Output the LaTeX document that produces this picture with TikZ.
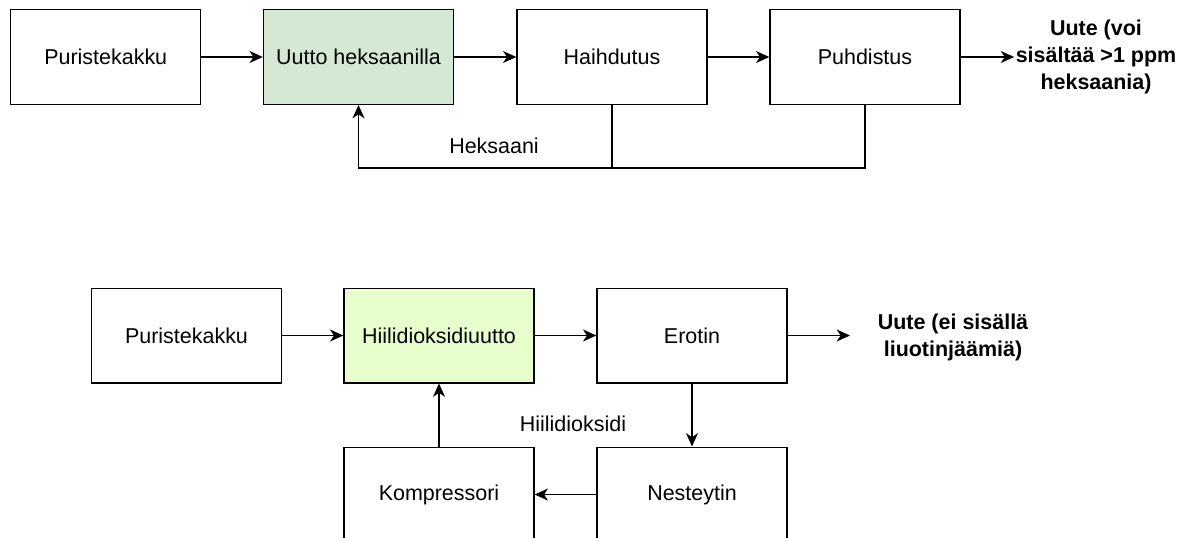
\documentclass[tikz,border=0pt]{standalone}
\usepackage{fontspec}
\setmainfont{Liberation Sans}
\usetikzlibrary{arrows.meta}
\definecolor{hexgreen}{HTML}{D5E8D4}
\definecolor{cogreen}{HTML}{E6FFCC}
\begin{document}
\begin{tikzpicture}[x=0.75pt,y=-0.75pt,
  box/.style={draw=black, line width=1pt, minimum width=142.5pt, minimum height=71pt, inner sep=0pt, font=\fontsize{16.1}{20}\selectfont},
  outtext/.style={align=center, inner sep=1pt, font=\fontsize{16.1}{20.25}\selectfont\bfseries},
  lbl/.style={inner sep=0pt, font=\fontsize{16.1}{20}\selectfont},
  arr/.style={line width=1pt, -{Stealth[length=10pt,width=9pt,inset=3pt]}},
  ln/.style={line width=1pt}]
\path[use as bounding box] (0,0) rectangle (1189,537);
% top process
\node[box] (p1) at (105.75,57) {Puristekakku};
\node[box, fill=hexgreen] (u1) at (358.5,57) {Uutto heksaanilla};
\node[box] (h1) at (612,57) {Haihdutus};
\node[box] (pu1) at (865,57) {Puhdistus};
\node[outtext] (o1) at (1096,57) {Uute (voi\\sisältää >1 ppm\\heksaania)};
\node[lbl] (hx) at (494,146) {Heksaani};
\draw[arr] (p1) -- (u1);
\draw[arr] (u1) -- (h1);
\draw[arr] (h1) -- (pu1);
\draw[arr] (pu1) -- (o1.west);
\draw[arr] (pu1.south) -- ++(0,63) -| (u1.south);
\draw[ln] (h1.south) -- ++(0,63);
% bottom process
\node[box] (p2) at (186.5,335.5) {Puristekakku};
\node[box, fill=cogreen] (c2) at (439,335.5) {Hiilidioksidiuutto};
\node[box] (e2) at (692,335.5) {Erotin};
\node[box] (n2) at (692,494.5) {Nesteytin};
\node[box] (k2) at (439,494.5) {Kompressori};
\node[outtext] (o2) at (953,337) {Uute (ei sisällä\\liuotinjäämiä)};
\coordinate (o2end) at (850,335.5);
\node[lbl] (co) at (573,424) {Hiilidioksidi};
\draw[arr] (p2) -- (c2);
\draw[arr] (c2) -- (e2);
\draw[arr] (e2) -- (o2end);
\draw[arr] (e2) -- (n2);
\draw[arr] (n2) -- (k2);
\draw[arr] (k2) -- (c2);
\end{tikzpicture}
\end{document}
